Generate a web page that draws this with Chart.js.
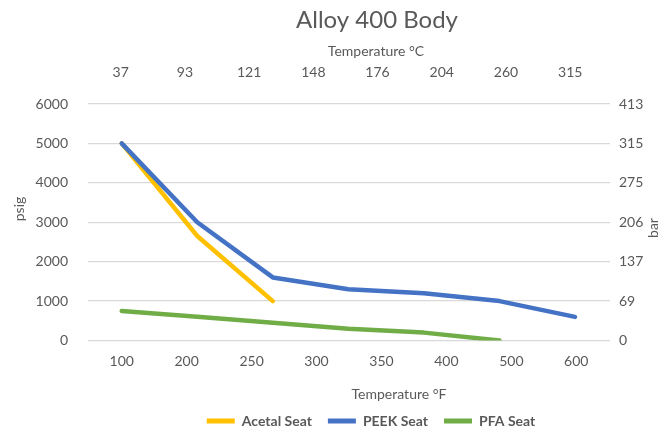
<!DOCTYPE html>
<html>
<head>
<meta charset="utf-8">
<script src="https://cdn.jsdelivr.net/npm/chart.js@4"></script>
<style>
  html, body { margin: 0; padding: 0; background: #ffffff; }
  #wrap { width: 660px; height: 426px; position: relative; }
</style>
</head>
<body>
<div id="wrap"><canvas id="c"></canvas></div>
<script>
// ---- data ----
const chartTitle = 'Alloy 400 Body';
const seriesNames = ['Acetal Seat', 'PEEK Seat', 'PFA Seat'];
const fahrenheitLabels = ['100', '200', '250', '300', '350', '400', '500', '600'];
const celsiusLabels = ['37', '93', '121', '148', '176', '204', '260', '315'];
const psigTicks = [0, 1000, 2000, 3000, 4000, 5000, 6000];
const barLabels = ['0', '69', '137', '206', '275', '315', '413'];
const acetalValues = [5000, 2650, 1000];
const peekValues = [5000, 3000, 1600, 1300, 1200, 1000, 600];
const pfaValues = [750, 600, 450, 300, 200, 0];
const xTitleF = 'Temperature °F';
const xTitleC = 'Temperature °C';
const yTitleLeft = 'psig';
const yTitleRight = 'bar';

// ---- styles ----
const TEXT = '#595959';
const GRID = '#d9d9d9';
const COLORS = ['#FFC000', '#4472C4', '#70AD47'];
Chart.defaults.font.family = 'Lato, "Open Sans", sans-serif';
Chart.defaults.color = TEXT;

const toPoints = arr => arr.map((v, i) => ({ x: i, y: v }));

const shiftPlugin = {
  id: 'shiftBlocks',
  afterLayout(chart) {
    const t = chart.titleBlock;
    if (t) { t.left += 47; t.right += 47; }
    const l = chart.legend;
    if (l) { l.left += 41; l.right += 41; l.top += 12; l.bottom += 12; }
  }
};

const axisTitlePlugin = {
  id: 'axisTitles',
  afterDraw(chart) {
    const ctx = chart.ctx;
    ctx.save();
    ctx.fillStyle = TEXT;
    ctx.font = '14px Lato, "Open Sans", sans-serif';
    ctx.textAlign = 'center';
    ctx.textBaseline = 'middle';
    ctx.fillText(xTitleC, 376, 51);
    ctx.fillText(xTitleF, 399, 394);
    ctx.save();
    ctx.translate(19, 209);
    ctx.rotate(-Math.PI / 2);
    ctx.fillText(yTitleLeft, 0, 0);
    ctx.restore();
    ctx.save();
    ctx.translate(653, 228);
    ctx.rotate(-Math.PI / 2);
    ctx.fillText(yTitleRight, 0, 0);
    ctx.restore();
    ctx.restore();
  }
};

const datasets = [acetalValues, peekValues, pfaValues].map((vals, i) => ({
  label: seriesNames[i],
  data: toPoints(vals),
  borderColor: COLORS[i],
  backgroundColor: COLORS[i],
  borderWidth: 4.5,
  pointRadius: 0,
  pointHoverRadius: 0,
  tension: 0,
  borderCapStyle: 'round',
  borderJoinStyle: 'round',
  xAxisID: 'x',
  yAxisID: 'y',
  order: [1, 0, 2][i]
}));

new Chart(document.getElementById('c'), {
  type: 'line',
  data: { datasets },
  plugins: [shiftPlugin, axisTitlePlugin],
  options: {
    responsive: true,
    maintainAspectRatio: false,
    animation: false,
    layout: { padding: 0 },
    plugins: {
      title: {
        display: true,
        text: chartTitle,
        color: TEXT,
        font: { size: 24, weight: 'normal' },
        padding: { top: 6, bottom: 0 }
      },
      legend: {
        position: 'bottom',
        labels: {
          color: TEXT,
          font: { size: 14, weight: 'bold' },
          boxWidth: 28,
          boxHeight: 5,
          padding: 16,
          sort: (a, b) => a.datasetIndex - b.datasetIndex,
          generateLabels: (chart) =>
            Chart.defaults.plugins.legend.labels.generateLabels(chart).map(l => ({ ...l, fillStyle: l.strokeStyle, lineWidth: 0 }))
        }
      },
      tooltip: { enabled: false }
    },
    scales: {
      x: {
        type: 'linear',
        display: false,
        min: -0.446,
        max: 6.463
      },
      xb: {
        type: 'linear',
        position: 'bottom',
        min: -0.519,
        max: 7.519,
        grid: { display: false, drawTicks: false },
        border: { display: false },
        afterBuildTicks: s => { s.ticks = fahrenheitLabels.map((_, i) => ({ value: i })); },
        afterFit: s => { s.height = 426 - 340.5 - (s.chart.legend ? s.chart.legend.height : 0); },
        ticks: {
          autoSkip: false,
          maxRotation: 0,
          padding: 13,
          font: { size: 14 },
          color: TEXT,
          callback: (v) => fahrenheitLabels[v]
        }
      },
      xt: {
        type: 'linear',
        position: 'top',
        min: -0.509,
        max: 7.62,
        grid: { display: false, drawTicks: false },
        border: { display: false },
        afterBuildTicks: s => { s.ticks = celsiusLabels.map((_, i) => ({ value: i })); },
        afterFit: s => { s.height = 104 - (s.chart.titleBlock ? s.chart.titleBlock.height : 0); },
        ticks: {
          autoSkip: false,
          maxRotation: 0,
          padding: 23.6,
          font: { size: 14 },
          color: TEXT,
          callback: (v) => celsiusLabels[v]
        }
      },
      y: {
        type: 'linear',
        position: 'left',
        min: psigTicks[0],
        max: psigTicks[psigTicks.length - 1],
        afterBuildTicks: s => { s.ticks = psigTicks.map(v => ({ value: v })); },
        afterFit: s => { s.width = 88; },
        grid: { color: GRID, lineWidth: 1.3, drawTicks: false },
        border: { display: false },
        ticks: { padding: 20, font: { size: 14 }, color: TEXT, callback: v => String(v) }
      },
      y2: {
        type: 'linear',
        position: 'right',
        min: psigTicks[0],
        max: psigTicks[psigTicks.length - 1],
        afterBuildTicks: s => { s.ticks = psigTicks.map(v => ({ value: v })); },
        afterFit: s => { s.width = 50; },
        grid: { display: false, drawTicks: false },
        border: { display: false },
        ticks: { padding: 9, font: { size: 14 }, color: TEXT, callback: (v) => barLabels[psigTicks.indexOf(v)] }
      }
    }
  }
});
</script>
</body>
</html>
